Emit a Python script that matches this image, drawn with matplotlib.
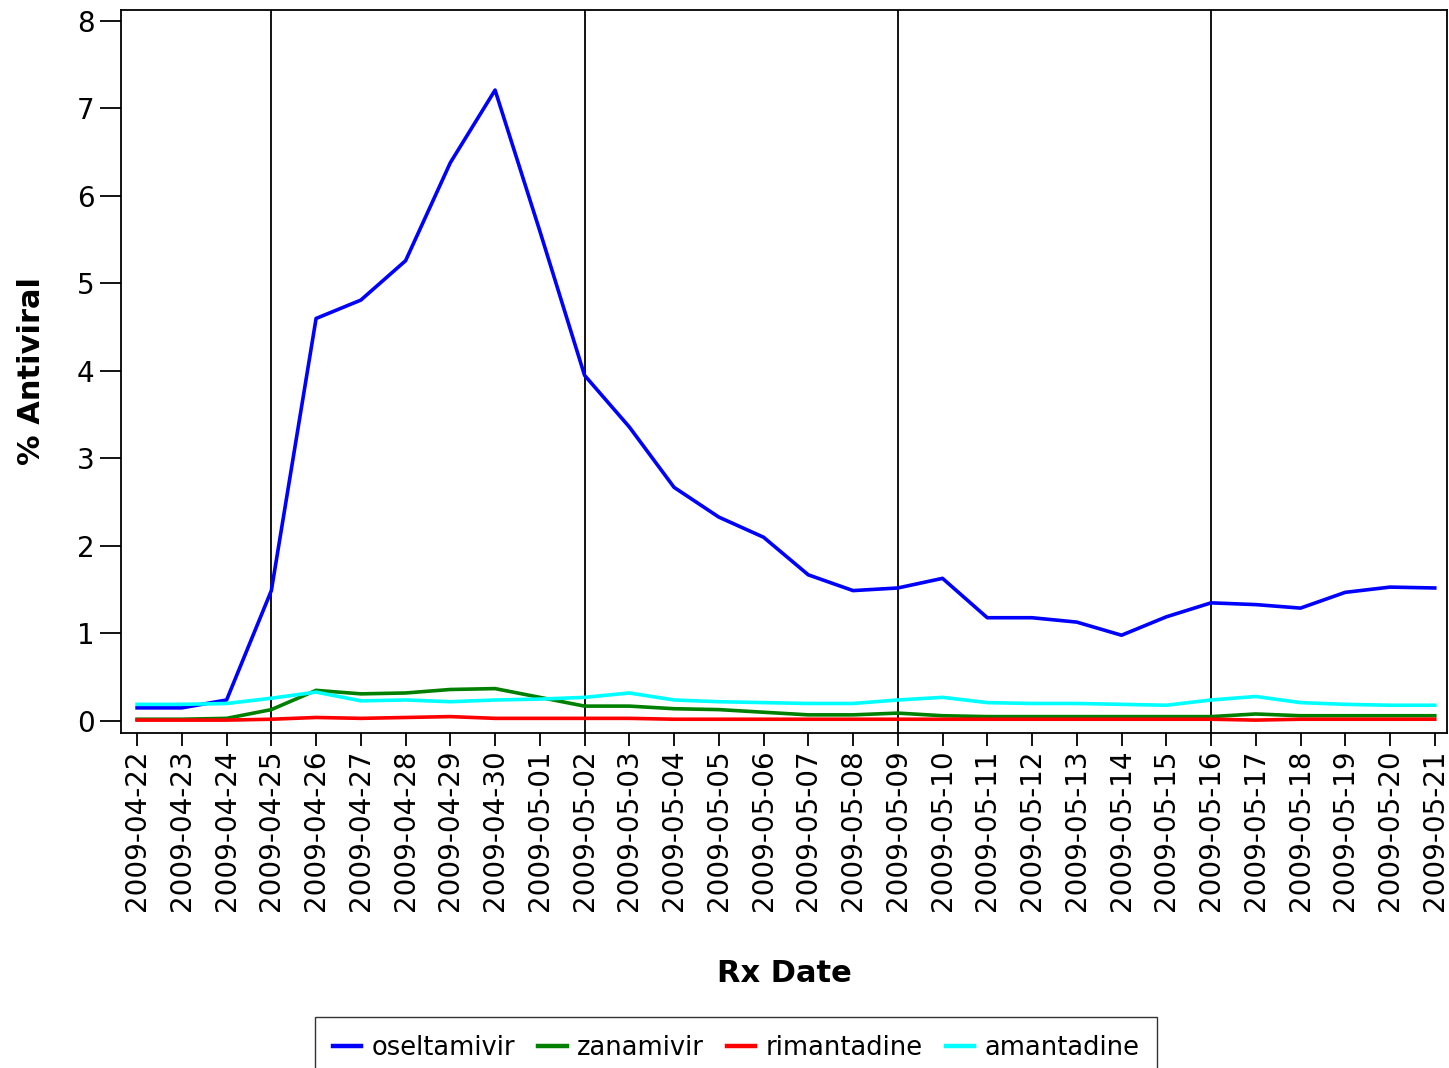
import numpy as np
import matplotlib
matplotlib.use("Agg")
import matplotlib.pyplot as plt

datas = ["2009-04-22", "2009-04-23", "2009-04-24", "2009-04-25", "2009-04-26",
         "2009-04-27", "2009-04-28", "2009-04-29", "2009-04-30", "2009-05-01",
         "2009-05-02", "2009-05-03", "2009-05-04", "2009-05-05", "2009-05-06",
         "2009-05-07", "2009-05-08", "2009-05-09", "2009-05-10", "2009-05-11",
         "2009-05-12", "2009-05-13", "2009-05-14", "2009-05-15", "2009-05-16",
         "2009-05-17", "2009-05-18", "2009-05-19", "2009-05-20", "2009-05-21"]

oseltamivir = [0.15, 0.15, 0.24, 1.49, 4.60, 4.81, 5.26, 6.38, 7.21, 5.60,
               3.95, 3.36, 2.67, 2.33, 2.10, 1.67, 1.49, 1.52, 1.63, 1.18,
               1.18, 1.13, 0.98, 1.19, 1.35, 1.33, 1.29, 1.47, 1.53, 1.52]
zanamivir = [0.02, 0.02, 0.03, 0.13, 0.35, 0.31, 0.32, 0.36, 0.37, 0.27,
             0.17, 0.17, 0.14, 0.13, 0.10, 0.07, 0.07, 0.09, 0.06, 0.05,
             0.05, 0.05, 0.05, 0.05, 0.05, 0.08, 0.06, 0.06, 0.06, 0.06]
rimantadine = [0.01, 0.01, 0.01, 0.02, 0.04, 0.03, 0.04, 0.05, 0.03, 0.03,
               0.03, 0.03, 0.02, 0.02, 0.02, 0.02, 0.02, 0.02, 0.02, 0.02,
               0.02, 0.02, 0.02, 0.02, 0.02, 0.01, 0.02, 0.02, 0.02, 0.02]
amantadine = [0.19, 0.19, 0.20, 0.26, 0.33, 0.23, 0.24, 0.22, 0.24, 0.25,
              0.27, 0.32, 0.24, 0.22, 0.21, 0.20, 0.20, 0.24, 0.27, 0.21,
              0.20, 0.20, 0.19, 0.18, 0.24, 0.28, 0.21, 0.19, 0.18, 0.18]

# datas com linha vertical de referencia
referencias = ["2009-04-25", "2009-05-02", "2009-05-09", "2009-05-16"]

x = np.arange(len(datas))

fig = plt.figure(figsize=(14.49, 10.68), dpi=100)
ax = fig.add_axes([0.0835, 0.3137, 0.915, 0.677])

for d in referencias:
    ax.axvline(datas.index(d), color="black", linewidth=1.3, zorder=1)

ax.plot(x, oseltamivir, color="#0000ff", linewidth=2.6, label="oseltamivir", zorder=3)
ax.plot(x, zanamivir, color="#008000", linewidth=2.6, label="zanamivir", zorder=3)
ax.plot(x, rimantadine, color="#ff0000", linewidth=2.6, label="rimantadine", zorder=3)
ax.plot(x, amantadine, color="#00ffff", linewidth=2.6, label="amantadine", zorder=3)

ax.set_xlim(-0.36, 29.27)
ax.set_ylim(-0.137, 8.126)
ax.set_xticks(x)
ax.set_xticklabels(datas, rotation=90, fontsize=20)
ax.set_yticks(range(0, 9))
ax.tick_params(axis="y", labelsize=20, length=15, width=1.3, pad=4)
ax.tick_params(axis="x", length=9, width=1.3, pad=3)
for s in ax.spines.values():
    s.set_linewidth(1.3)

ax.set_xlabel("Rx Date", fontsize=22, fontweight="bold", labelpad=34)
ax.set_ylabel("% Antiviral", fontsize=22, fontweight="bold", labelpad=22)

leg = fig.legend(loc="upper center", bbox_to_anchor=(0.508, 0.048), ncol=4,
                 fontsize=18.5, frameon=True, fancybox=False, edgecolor="black",
                 handlelength=1.1, handletextpad=0.4, columnspacing=0.9,
                 borderpad=0.7, borderaxespad=0)
for l in leg.get_lines():
    l.set_linewidth(3.2)

fig.savefig("out.png", dpi=100)
